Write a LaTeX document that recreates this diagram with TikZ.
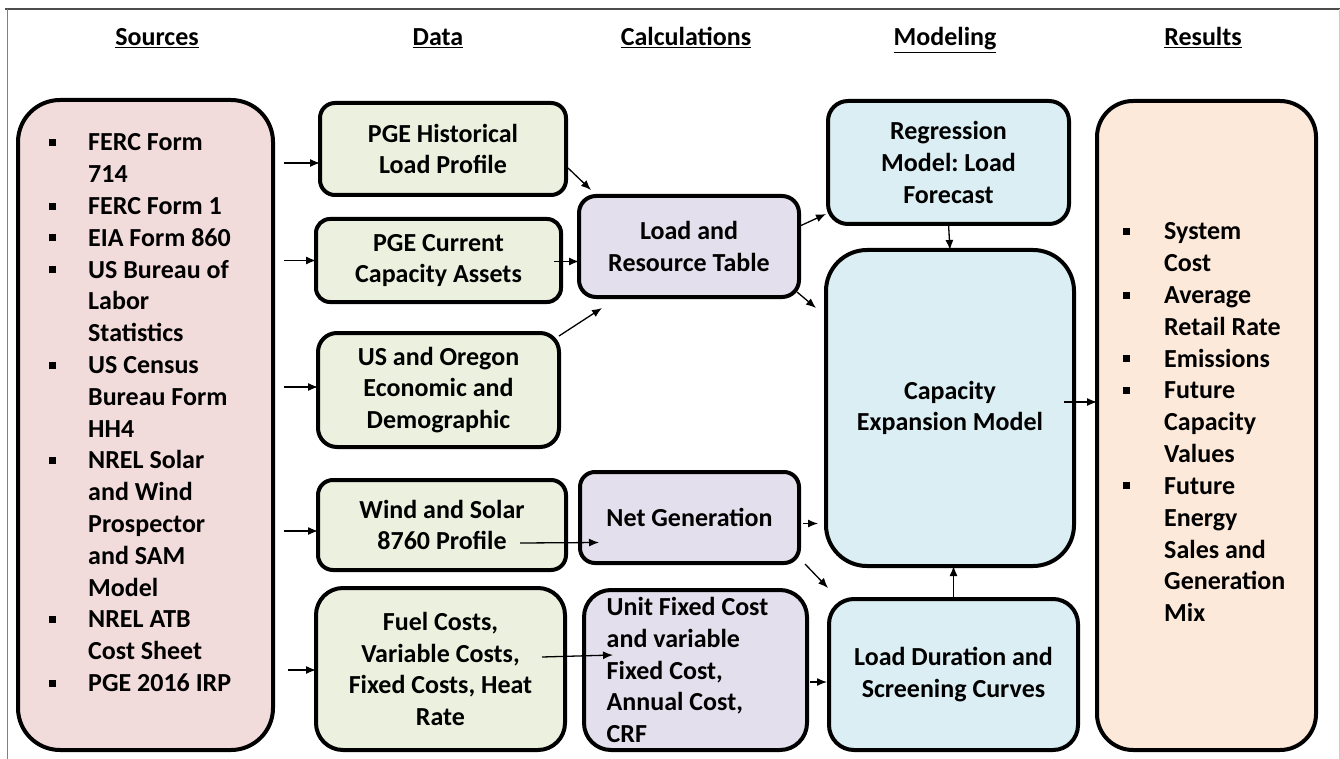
\documentclass[tikz,border=0pt]{standalone}
\usepackage{fontspec}
\setmainfont{Carlito}
\usetikzlibrary{arrows.meta,calc}
\definecolor{srcpink}{HTML}{F2DCDB}
\definecolor{datagreen}{HTML}{EBF1DE}
\definecolor{calcpurple}{HTML}{E4DFEC}
\definecolor{modelblue}{HTML}{DAEEF3}
\definecolor{respeach}{HTML}{FDE9D9}
\newcommand{\blt}{\rule[5pt]{7pt}{7pt}}
\frenchspacing
\tikzset{
  boxnode/.style={draw, line width=4pt, inner sep=0pt, outer sep=0pt, align=center,
    font=\fontsize{26}{31.8}\selectfont\bfseries},
  hdr/.style={anchor=base, inner sep=0pt, font=\fontsize{26}{31.8}\selectfont\bfseries},
  lst/.style={anchor=base west, inner sep=0pt, font=\fontsize{26}{31.8}\selectfont\bfseries},
  arr/.style={->, line width=1.3pt},
}
\begin{document}
\begin{tikzpicture}[x=1pt,y=-1pt,>={Latex[length=10pt,width=8pt]}]
\useasboundingbox (0,0) rectangle (1340,759);
\draw[line width=2pt, black!70] (5,9) -- (1340,9);
\draw[line width=1pt, black!50] (7,9) -- (7,759);
\draw[line width=1pt, black!20] (1339,9) -- (1339,759);
%% headers
\node[hdr] (hsrc) at (157,46) {\underline{Sources}};
\node[hdr] (hdata) at (438,46) {\underline{Data}};
\node[hdr] (hcalc) at (686,46) {\underline{Calculations}};
\node[hdr] (hmodel) at (945,46) {\underline{Modeling}};
\node[hdr] (hres) at (1203,46) {\underline{Results}};
%% sources
\node[boxnode, fill=srcpink, rounded corners=42pt, minimum width=255pt, minimum height=650pt] (sources) at (145.5,425) {};
\node[lst] (srclist) at (49,151) {\begin{tabular}[t]{@{}p{39pt}@{}l@{}}
\blt & FERC Form\\
 & 714\\
\blt & FERC Form 1\\
\blt & EIA Form 860\\
\blt & US Bureau of\\
 & Labor\\
 & Statistics\\
\blt & US Census\\
 & Bureau Form\\
 & HH4\\
\blt & NREL Solar\\
 & and Wind\\
 & Prospector\\
 & and SAM\\
 & Model\\
\blt & NREL ATB\\
 & Cost Sheet\\
\blt & PGE 2016 IRP
\end{tabular}};
%% data
\node[boxnode, fill=datagreen, rounded corners=15pt, minimum width=246pt, minimum height=92pt] (hist) at (443,149) {PGE Historical\\Load Profile};
\node[boxnode, fill=datagreen, rounded corners=14pt, minimum width=245pt, minimum height=83pt] (assets) at (438.5,260.5) {PGE Current\\Capacity Assets};
\node[boxnode, fill=datagreen, rounded corners=19pt, minimum width=241pt, minimum height=114pt] (econ) at (438.5,390) {US and Oregon\\Economic and\\Demographic};
\node[boxnode, fill=datagreen, rounded corners=15pt, minimum width=248pt, minimum height=90pt] (wind) at (442,525) {Wind and Solar\\8760 Profile};
\node[boxnode, fill=datagreen, rounded corners=27pt, minimum width=249pt, minimum height=162pt] (costs) at (440.5,669) {Fuel Costs,\\Variable Costs,\\Fixed Costs, Heat\\Rate};
%% calculations
\node[boxnode, fill=calcpurple, rounded corners=17pt, minimum width=220pt, minimum height=101pt] (lrt) at (689,246.5) {Load and\\Resource Table};
\node[boxnode, fill=calcpurple, rounded corners=15pt, minimum width=219pt, minimum height=91pt] (netgen) at (689.5,517.5) {Net Generation};
\node[boxnode, fill=calcpurple, rounded corners=27pt, minimum width=223pt, minimum height=160pt, align=left] (unitcost) at (695.5,670) {Unit Fixed Cost\hspace*{16pt}\\and variable\\Fixed Cost,\\Annual Cost,\\CRF};
%% modeling
\node[boxnode, fill=modelblue, rounded corners=20pt, minimum width=241pt, minimum height=123pt] (regr) at (948.5,162.5) {Regression\\Model: Load\\Forecast};
\node[boxnode, fill=modelblue, rounded corners=41pt, minimum width=248pt, minimum height=316pt] (cem) at (950,408) {Capacity\\Expansion Model};
\node[boxnode, fill=modelblue, rounded corners=25pt, minimum width=249pt, minimum height=151pt] (ldc) at (953.5,674.5) {Load Duration and\\Screening Curves};
%% results
\node[boxnode, fill=respeach, rounded corners=36pt, minimum width=219pt, minimum height=649pt] (results) at (1206.5,425.5) {};
\node[lst] (reslist) at (1123,240) {\begin{tabular}[t]{@{}p{41pt}@{}l@{}}
\blt & System\\
 & Cost\\
\blt & Average\\
 & Retail Rate\\
\blt & Emissions\\
\blt & Future\\
 & Capacity\\
 & Values\\
\blt & Future\\
 & Energy\\
 & Sales and\\
 & Generation\\
 & Mix
\end{tabular}};
%% arrows
\draw[arr] ($(sources.east |- hist.west)+(11,14)$) -- ($(hist.west)+(0,14)$);
\draw[arr] ($(sources.east |- assets.west)+(11,0)$) -- (assets.west);
\draw[arr] ($(sources.east |- econ.west)+(11,-3)$) -- ($(econ.west)+(0,-3)$);
\draw[arr] ($(sources.east |- wind.west)+(11,6)$) -- ($(wind.west)+(0,6)$);
\draw[arr] ($(sources.east |- costs.west)+(15,1)$) -- ($(costs.west)+(0,1)$);
%%
\draw[arr] ($(hist.east)+(2,19)$) -- ($(lrt.north west)+(12,-6)$);
\draw[arr] ($(lrt.west)+(-25,15)$) -- ($(lrt.west)+(0,15)$);
\draw[arr] ($(econ.north east)+(0,3)$) -- ($(lrt.south west)+(23,11)$);
\draw[arr] ($(wind.east)+(-46,18)$) -- ($(netgen.west)+(19,25)$);
\draw[arr] ($(costs.east)+(-23,-12)$) -- ($(unitcost.west)+(29,-15)$);
%%
\draw[arr] ($(lrt.east)+(2,-21)$) -- ($(regr.south west)+(-2,-10)$);
\draw[arr] ($(lrt.south east)+(-2,-5)$) -- ($(cem.north west)+(-10,58)$);
\draw[arr] ($(netgen.east)+(4,6)$) -- ($(netgen.east -| cem.west)+(-8,6)$);
\draw[arr] ($(netgen.south east)+(6,1)$) -- ($(ldc.north west)+(-1,-11)$);
\draw[arr] ($(unitcost.east)+(3,12)$) -- ($(unitcost.east -| ldc.west)+(-2,12)$);
%%
\draw[arr] (regr.south) -- (cem.north);
\draw[arr] (ldc.north) -- (ldc.north |- cem.south);
\draw[arr] ($(cem.east)+(-10,-6)$) -- ($(cem.east -| results.west)+(0,-6)$);
\end{tikzpicture}
\end{document}
